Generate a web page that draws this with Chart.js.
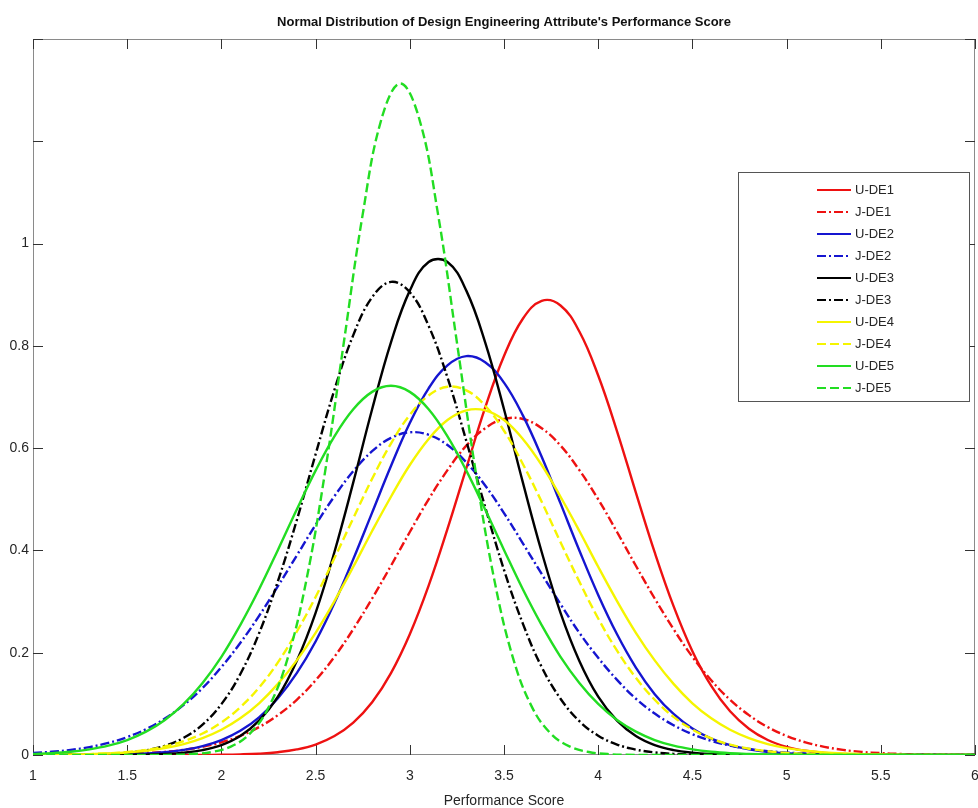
<!DOCTYPE html>
<html>
<head>
<meta charset="utf-8">
<title>Normal Distribution of Design Engineering Attribute's Performance Score</title>
<script src="https://cdn.jsdelivr.net/npm/chart.js@4.4.1/dist/chart.umd.min.js"></script>
<style>
  html, body { margin: 0; padding: 0; background: #fff; }
</style>
</head>
<body>
<canvas id="plot1" width="978" height="808"></canvas>
<script>
// Textos del grafico
let tituloGrafico = "Normal Distribution of Design Engineering Attribute's Performance Score"
let tituloX = 'Performance Score'

// Ticks de los ejes
let xTicks = [1, 1.5, 2, 2.5, 3, 3.5, 4, 4.5, 5, 5.5, 6]
let xTickLabels = ['1', '1.5', '2', '2.5', '3', '3.5', '4', '4.5', '5', '5.5', '6']
let yTicks = [0, 0.2, 0.4, 0.6, 0.8, 1, 1.2, 1.4]
let yTickLabels = ['0', '0.2', '0.4', '0.6', '0.8', '1', '', '']

// Puntaje (eje x) compartido por las curvas
let scoreX = [1.0, 1.1, 1.2, 1.3, 1.4, 1.5, 1.6, 1.7, 1.8, 1.9,
              2.0, 2.1, 2.2, 2.3, 2.4, 2.5, 2.6, 2.7, 2.8, 2.9,
              3.0, 3.1, 3.2, 3.3, 3.4, 3.5, 3.6, 3.7, 3.8, 3.9,
              4.0, 4.1, 4.2, 4.3, 4.4, 4.5, 4.6, 4.7, 4.8, 4.9,
              5.0, 5.1, 5.2, 5.3, 5.4, 5.5, 5.6, 5.7, 5.8, 5.9, 6.0]

// Densidades
let uDE1 = [0, 0, 0, 0, 0, 0, 0, 0, 0.0001, 0.0002,
            0.0005, 0.0012, 0.0026, 0.0055, 0.0109, 0.0205, 0.037, 0.0633, 0.103, 0.160,
            0.236, 0.331, 0.442, 0.561, 0.679, 0.780, 0.853, 0.888, 0.879, 0.828,
            0.742, 0.633, 0.513, 0.396, 0.291, 0.203, 0.135, 0.0854, 0.0514, 0.0294,
            0.016, 0.0083, 0.0041, 0.0019, 0.0009, 0.0004, 0.0001, 0, 0, 0, 0]
let jDE1 = [0.0001, 0.0002, 0.0004, 0.0007, 0.0012, 0.0021, 0.0037, 0.0061, 0.010, 0.016,
            0.0248, 0.0373, 0.0546, 0.078, 0.108, 0.146, 0.192, 0.246, 0.306, 0.370,
            0.436, 0.500, 0.557, 0.605, 0.639, 0.657, 0.657, 0.639, 0.605, 0.557,
            0.500, 0.436, 0.370, 0.306, 0.246, 0.192, 0.146, 0.108, 0.078, 0.0546,
            0.0373, 0.0248, 0.016, 0.010, 0.0061, 0.0037, 0.0021, 0.0012, 0.0007, 0.0004, 0.0002]
let uDE2 = [0, 0, 0.0001, 0.0003, 0.0007, 0.0015, 0.0029, 0.0054, 0.0099, 0.0173,
            0.0292, 0.0473, 0.0737, 0.111, 0.160, 0.222, 0.297, 0.383, 0.474, 0.565,
            0.649, 0.717, 0.762, 0.780, 0.768, 0.728, 0.664, 0.583, 0.492, 0.400,
            0.313, 0.236, 0.171, 0.119, 0.0802, 0.0518, 0.0322, 0.0193, 0.0111, 0.0062,
            0.0033, 0.0017, 0.0008, 0.0004, 0.0002, 0.0001, 0, 0, 0, 0, 0]
let jDE2 = [0.0038, 0.0063, 0.010, 0.0155, 0.0236, 0.035, 0.0505, 0.0712, 0.0979, 0.131,
            0.172, 0.219, 0.272, 0.330, 0.390, 0.450, 0.506, 0.555, 0.594, 0.620,
            0.631, 0.626, 0.606, 0.572, 0.527, 0.473, 0.414, 0.354, 0.295, 0.239,
            0.190, 0.147, 0.110, 0.0811, 0.0582, 0.0406, 0.0277, 0.0184, 0.0119, 0.0076,
            0.0047, 0.0028, 0.0016, 0.0009, 0.0005, 0.0003, 0.0001, 0, 0, 0, 0]
let uDE3 = [0, 0, 0, 0, 0.0001, 0.0003, 0.0008, 0.0019, 0.0044, 0.0095,
            0.0194, 0.0372, 0.0671, 0.114, 0.184, 0.278, 0.397, 0.533, 0.676, 0.807,
            0.908, 0.964, 0.964, 0.908, 0.807, 0.676, 0.533, 0.397, 0.278, 0.184,
            0.114, 0.0671, 0.0372, 0.0194, 0.0095, 0.0044, 0.0019, 0.0008, 0.0003, 0.0001,
            0, 0, 0, 0, 0, 0, 0, 0, 0, 0, 0]
let jDE3 = [0, 0.0001, 0.0004, 0.0009, 0.002, 0.0044, 0.0091, 0.018, 0.0336, 0.0594,
            0.0995, 0.158, 0.238, 0.340, 0.459, 0.588, 0.714, 0.821, 0.895, 0.925,
            0.905, 0.839, 0.738, 0.614, 0.485, 0.362, 0.257, 0.172, 0.110, 0.0661,
            0.0378, 0.0205, 0.0105, 0.0051, 0.0023, 0.001, 0.0004, 0.0002, 0, 0,
            0, 0, 0, 0, 0, 0, 0, 0, 0, 0, 0]
let uDE4 = [0.0002, 0.0005, 0.0009, 0.0016, 0.0029, 0.005, 0.0083, 0.0135, 0.0214, 0.033,
            0.0493, 0.0717, 0.101, 0.139, 0.185, 0.239, 0.301, 0.368, 0.438, 0.505,
            0.567, 0.618, 0.655, 0.674, 0.674, 0.655, 0.618, 0.567, 0.505, 0.438,
            0.368, 0.301, 0.239, 0.185, 0.139, 0.101, 0.0717, 0.0493, 0.033, 0.0214,
            0.0135, 0.0083, 0.005, 0.0029, 0.0016, 0.0009, 0.0005, 0.0002, 0.0001, 0, 0]
let jDE4 = [0.0002, 0.0005, 0.0009, 0.0018, 0.0033, 0.0058, 0.01, 0.0167, 0.027, 0.0421,
            0.0637, 0.0933, 0.132, 0.181, 0.241, 0.309, 0.385, 0.463, 0.540, 0.609,
            0.665, 0.703, 0.720, 0.713, 0.683, 0.634, 0.569, 0.495, 0.416, 0.339,
            0.267, 0.204, 0.151, 0.108, 0.0745, 0.0499, 0.0324, 0.0203, 0.0123, 0.0073,
            0.0041, 0.0023, 0.0012, 0.0006, 0.0003, 0.0001, 0, 0, 0, 0, 0]
let uDE5 = [0.002, 0.0036, 0.0064, 0.011, 0.0182, 0.0293, 0.0456, 0.0685, 0.0999, 0.141,
            0.192, 0.254, 0.324, 0.401, 0.480, 0.556, 0.623, 0.676, 0.710, 0.722,
            0.710, 0.676, 0.623, 0.556, 0.480, 0.401, 0.324, 0.254, 0.192, 0.141,
            0.0999, 0.0685, 0.0456, 0.0293, 0.0182, 0.011, 0.0064, 0.0036, 0.002, 0.001,
            0.0005, 0.0003, 0.0001, 0, 0, 0, 0, 0, 0, 0, 0]

// J-DE5 es muy angosta, se leyo en su propia rejilla
let jDE5X = [1.0, 1.65, 1.75, 1.85, 1.95, 2.05, 2.15, 2.25, 2.35, 2.45, 2.55, 2.65, 2.75, 2.85,
             2.95, 3.05, 3.15, 3.25, 3.35, 3.45, 3.55, 3.65, 3.75, 3.85, 3.95, 4.05, 4.15, 4.25, 6.0]
let jDE5 = [0, 0.0001, 0.0005, 0.0019, 0.0059, 0.0164, 0.0412, 0.0927, 0.187, 0.340, 0.553, 0.807, 1.057, 1.244,
            1.313, 1.244, 1.057, 0.807, 0.553, 0.340, 0.187, 0.0927, 0.0412, 0.0164, 0.0059, 0.0019, 0.0005, 0.0001, 0]

let fuente = "'Liberation Sans', Arial, sans-serif"

let puntos = (xs, ys) => xs.map((x, i) => ({x: x, y: ys[i]}))

let guion = [9, 4]
let guionPunto = [9, 3, 2, 3]

let series = [
  {label: 'U-DE1', xs: scoreX, ys: uDE1, color: '#ee1111', dash: []},
  {label: 'J-DE1', xs: scoreX, ys: jDE1, color: '#ee1111', dash: guionPunto},
  {label: 'U-DE2', xs: scoreX, ys: uDE2, color: '#1515d0', dash: []},
  {label: 'J-DE2', xs: scoreX, ys: jDE2, color: '#1515d0', dash: guionPunto},
  {label: 'U-DE3', xs: scoreX, ys: uDE3, color: '#000000', dash: []},
  {label: 'J-DE3', xs: scoreX, ys: jDE3, color: '#000000', dash: guionPunto},
  {label: 'U-DE4', xs: scoreX, ys: uDE4, color: '#f5f500', dash: []},
  {label: 'J-DE4', xs: scoreX, ys: jDE4, color: '#f5f500', dash: guion},
  {label: 'U-DE5', xs: scoreX, ys: uDE5, color: '#22dd22', dash: []},
  {label: 'J-DE5', xs: jDE5X, ys: jDE5, color: '#22dd22', dash: guion}
]

//Marco del eje con ticks hacia adentro
let marcoPlugin = {
  id: 'marco',
  beforeDatasetsDraw(chart) {
    let {ctx, chartArea: a, scales: {x, y}} = chart
    ctx.save()
    ctx.strokeStyle = '#8a8a8a'
    ctx.lineWidth = 1
    ctx.strokeRect(a.left + 0.5, a.top + 0.5, a.right - a.left - 1, a.bottom - a.top - 1)
    ctx.strokeStyle = '#333'
    ctx.beginPath()
    xTicks.forEach(v => {
      let px = Math.round(x.getPixelForValue(v)) + 0.5
      ctx.moveTo(px, a.bottom); ctx.lineTo(px, a.bottom - 10)
      ctx.moveTo(px, a.top); ctx.lineTo(px, a.top + 10)
    })
    yTicks.forEach(v => {
      let py = Math.round(y.getPixelForValue(v)) + 0.5
      ctx.moveTo(a.left, py); ctx.lineTo(a.left + 10, py)
      ctx.moveTo(a.right, py); ctx.lineTo(a.right - 10, py)
    })
    ctx.stroke()
    ctx.restore()
  }
}

//Leyenda dentro del area del grafico
let leyendaPlugin = {
  id: 'leyenda',
  afterDatasetsDraw(chart) {
    let {ctx, chartArea: a} = chart
    let left = a.right - 237, top = a.top + 133, w = 231, h = 229
    ctx.save()
    ctx.fillStyle = '#fff'
    ctx.fillRect(left, top, w, h)
    ctx.strokeStyle = '#555'
    ctx.lineWidth = 1
    ctx.strokeRect(left + 0.5, top + 0.5, w, h)
    ctx.font = '13px ' + fuente
    ctx.textBaseline = 'middle'
    chart.data.datasets.forEach((ds, i) => {
      let yy = top + 18 + i * 22
      ctx.strokeStyle = ds.borderColor
      ctx.lineWidth = 2
      ctx.setLineDash(ds.borderDash)
      ctx.beginPath()
      ctx.moveTo(left + 79, yy)
      ctx.lineTo(left + 113, yy)
      ctx.stroke()
      ctx.setLineDash([])
      ctx.fillStyle = '#262626'
      ctx.fillText(ds.label, left + 117, yy)
    })
    ctx.restore()
  }
}

let config = {
  type: 'line',
  data: {
    datasets: series.map((s, i) => ({
      label: s.label,
      data: puntos(s.xs, s.ys),
      borderColor: s.color,
      borderDash: s.dash,
      borderWidth: 2.4,
      pointRadius: 0,
      tension: 0.4,
      fill: false,
      order: series.length - 1 - i
    }))
  },
  options: {
    responsive: false,
    animation: false,
    layout: {padding: {left: 0, right: 3, top: 0, bottom: 0}},
    scales: {
      x: {
        type: 'linear',
        min: 1,
        max: 6,
        afterBuildTicks: s => { s.ticks = xTicks.map(v => ({value: v})) },
        afterFit: s => { s.height = 53; s.paddingLeft = 0; s.paddingRight = 0 },
        grid: {display: false, drawTicks: false},
        border: {display: false},
        ticks: {
          padding: 13,
          color: '#262626',
          font: {family: fuente, size: 14},
          maxRotation: 0,
          autoSkip: false,
          callback: (v, i) => xTickLabels[i]
        },
        title: {
          display: true,
          text: tituloX,
          color: '#262626',
          font: {family: fuente, size: 14},
          padding: {top: 0, bottom: -2}
        }
      },
      y: {
        min: 0,
        max: 1.4,
        afterBuildTicks: s => { s.ticks = yTicks.map(v => ({value: v})) },
        afterFit: s => { s.width = 33; s.paddingTop = 0; s.paddingBottom = 0 },
        grid: {display: false, drawTicks: false},
        border: {display: false},
        ticks: {
          padding: 4,
          color: '#262626',
          font: {family: fuente, size: 14},
          autoSkip: false,
          callback: (v, i) => yTickLabels[i]
        }
      }
    },
    plugins: {
      legend: {display: false},
      tooltip: {enabled: false},
      title: {
        display: true,
        fullSize: false,
        text: tituloGrafico,
        color: '#111',
        font: {family: fuente, size: 13, weight: 'bold', lineHeight: 1.2},
        padding: {top: 15, bottom: 8.4}
      }
    }
  },
  plugins: [marcoPlugin, leyendaPlugin]
}

let chart1 = new Chart(document.getElementById('plot1'), config)
</script>
</body>
</html>
